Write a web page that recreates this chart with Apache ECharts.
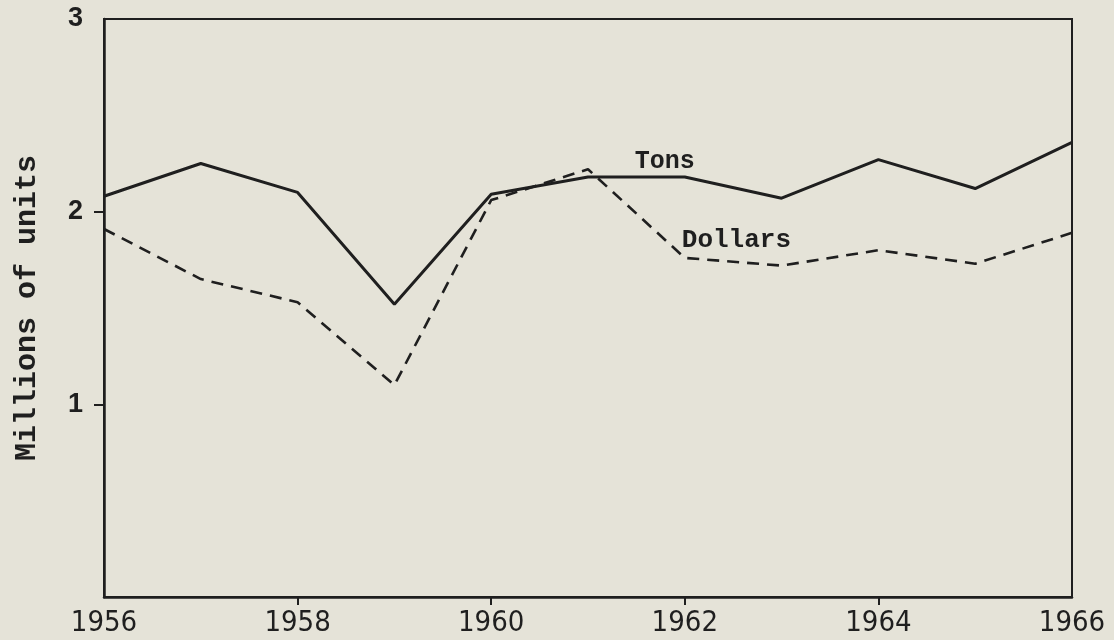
<!DOCTYPE html>
<html>
<head>
<meta charset="utf-8">
<script src="https://cdn.jsdelivr.net/npm/echarts@6/dist/echarts.min.js"></script>
<style>
html, body { margin: 0; padding: 0; background: #e5e3d8; }
#chart { width: 1114px; height: 640px; }
</style>
</head>
<body>
<div id="chart"></div>
<script>
// values (millions of units)
const years = ['1956', '1957', '1958', '1959', '1960', '1961', '1962', '1963', '1964', '1965', '1966'];
const tons = [2.08, 2.25, 2.10, 1.52, 2.09, 2.18, 2.18, 2.07, 2.27, 2.12, 2.36];
const dollars = [1.91, 1.65, 1.53, 1.10, 2.06, 2.22, 1.76, 1.72, 1.80, 1.73, 1.89];
const xLabelYears = ['1956', '1958', '1960', '1962', '1964', '1966'];
const xTickYears = ['1958', '1960', '1962', '1964'];
const yLabelValues = [1, 2, 3];
const yTickValues = [1, 2];
const seriesNames = ['Tons', 'Dollars'];
const labelYear = '1962';

const ink = '#1f1f1f';
const typewriter = '"Liberation Mono", "DejaVu Sans Mono", monospace';

let myChart = echarts.init(document.getElementById('chart'));

// only the 1962 point carries the series name
function withLabel(values, labelOpt) {
  return values.map((v, i) => {
    if (years[i] !== labelYear) return v;
    return { value: v, label: labelOpt };
  });
}

let option = {
  backgroundColor: '#e5e3d8',
  animation: false,
  grid: {
    left: 104,
    right: 42,
    top: 19,
    bottom: 43,
    show: true,
    borderColor: ink,
    borderWidth: 2
  },
  xAxis: {
    type: 'category',
    data: years,
    boundaryGap: false,
    axisLine: { show: true, lineStyle: { color: ink, width: 2.5 } },
    axisTick: {
      show: true,
      length: 8,
      lineStyle: { color: ink, width: 2 },
      interval: (index, val) => xTickYears.indexOf(val) >= 0
    },
    axisLabel: {
      interval: (index, val) => xLabelYears.indexOf(val) >= 0,
      margin: 12,
      color: ink,
      fontFamily: '"DejaVu Sans Condensed", "Liberation Sans Narrow", sans-serif',
      fontSize: 29
    },
    splitLine: { show: false }
  },
  yAxis: {
    type: 'value',
    min: 0,
    max: 3,
    interval: 1,
    name: 'Millions of units',
    nameLocation: 'middle',
    nameGap: 62,
    nameTextStyle: {
      color: ink,
      fontFamily: typewriter,
      fontSize: 30,
      fontWeight: 'bold'
    },
    axisLine: { show: true, lineStyle: { color: ink, width: 2.5 } },
    axisTick: {
      show: true,
      length: 10,
      lineStyle: { color: ink, width: 2 },
      customValues: yTickValues
    },
    axisLabel: {
      customValues: yLabelValues,
      margin: 21,
      color: ink,
      fontFamily: '"Liberation Sans", Arial, sans-serif',
      fontSize: 27,
      fontWeight: 'bold'
    },
    splitLine: { show: false }
  },
  series: [
    {
      name: seriesNames[0],
      type: 'line',
      symbol: 'circle',
      symbolSize: 0,
      lineStyle: { color: ink, width: 3 },
      itemStyle: { color: ink },
      data: withLabel(tons, {
        show: true,
        formatter: seriesNames[0],
        position: 'top',
        offset: [-20, 2],
        color: ink,
        fontFamily: typewriter,
        fontSize: 25,
        fontWeight: 'bold'
      })
    },
    {
      name: seriesNames[1],
      type: 'line',
      symbol: 'circle',
      symbolSize: 0,
      lineStyle: { color: ink, width: 2.6, type: [12, 8] },
      itemStyle: { color: ink },
      data: withLabel(dollars, {
        show: true,
        formatter: seriesNames[1],
        position: 'right',
        distance: 0,
        offset: [-3, -17],
        color: ink,
        fontFamily: typewriter,
        fontSize: 26,
        fontWeight: 'bold'
      })
    }
  ]
};

myChart.setOption(option);
</script>
</body>
</html>
